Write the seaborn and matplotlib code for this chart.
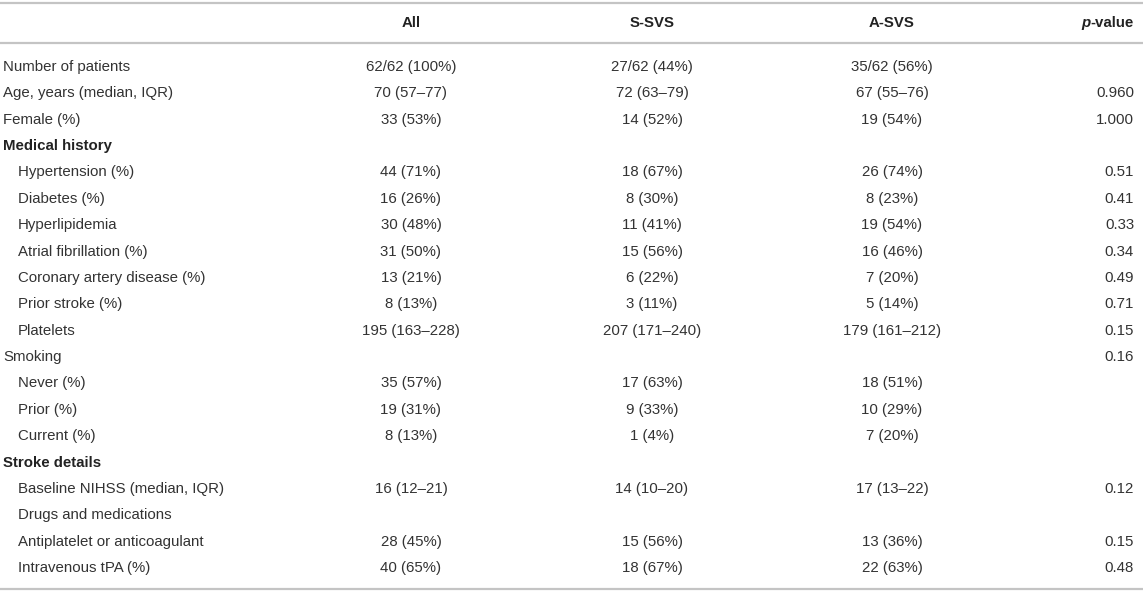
import matplotlib
matplotlib.use("Agg")
import matplotlib.pyplot as plt
import seaborn as sns

# ---- data ----
row_labels = [
    "Number of patients", "Age, years (median, IQR)", "Female (%)",
    "Medical history", "Hypertension (%)", "Diabetes (%)", "Hyperlipidemia",
    "Atrial fibrillation (%)", "Coronary artery disease (%)", "Prior stroke (%)",
    "Platelets", "Smoking", "Never (%)", "Prior (%)", "Current (%)",
    "Stroke details", "Baseline NIHSS (median, IQR)", "Drugs and medications",
    "Antiplatelet or anticoagulant", "Intravenous tPA (%)",
]
row_kind = ["n", "n", "n", "h", "i", "i", "i", "i", "i", "i", "i", "n",
            "i", "i", "i", "h", "i", "i", "i", "i"]
all_vals = ["62/62 (100%)", "70 (57–77)", "33 (53%)", "", "44 (71%)", "16 (26%)",
            "30 (48%)", "31 (50%)", "13 (21%)", "8 (13%)", "195 (163–228)", "",
            "35 (57%)", "19 (31%)", "8 (13%)", "", "16 (12–21)", "",
            "28 (45%)", "40 (65%)"]
ssvs_vals = ["27/62 (44%)", "72 (63–79)", "14 (52%)", "", "18 (67%)", "8 (30%)",
             "11 (41%)", "15 (56%)", "6 (22%)", "3 (11%)", "207 (171–240)", "",
             "17 (63%)", "9 (33%)", "1 (4%)", "", "14 (10–20)", "",
             "15 (56%)", "18 (67%)"]
asvs_vals = ["35/62 (56%)", "67 (55–76)", "19 (54%)", "", "26 (74%)", "8 (23%)",
             "19 (54%)", "16 (46%)", "7 (20%)", "5 (14%)", "179 (161–212)", "",
             "18 (51%)", "10 (29%)", "7 (20%)", "", "17 (13–22)", "",
             "13 (36%)", "22 (63%)"]
p_vals = ["", "0.960", "1.000", "", "0.51", "0.41", "0.33", "0.34", "0.49",
          "0.71", "0.15", "0.16", "", "", "", "", "0.12", "", "0.15", "0.48"]
headers = ["All", "S-SVS", "A-SVS"]

# ---- style ----
sns.set_theme(style="white")
plt.rcParams["font.family"] = ["Liberation Sans", "DejaVu Sans"]

W, H = 1143, 592
fig = plt.figure(figsize=(W / 100, H / 100), dpi=100)
ax = fig.add_axes([0, 0, 1, 1])
ax.set_xlim(0, W)
ax.set_ylim(H, 0)
ax.axis("off")

fs = 15.0 * 72 / 100
txt = "#333333"
line_c = "#c4c4c4"

for y in (3, 43, 589):
    ax.plot([0, W], [y, y], color=line_c, lw=1.6, solid_capstyle="butt")

col_x = [411, 652, 892]
p_x = 1134
head_y = 23

for cx, h in zip(col_x, headers):
    ax.text(cx, head_y, h, ha="center", va="center", fontsize=fs,
            fontweight="bold", color="#222222")
t_val = ax.text(p_x, head_y, "-value", ha="right", va="center", fontsize=fs,
                fontweight="bold", color="#222222")
fig.canvas.draw()
r = fig.canvas.get_renderer()
bb = t_val.get_window_extent(r)
left_data = ax.transData.inverted().transform((bb.x0, bb.y0))[0]
ax.text(left_data, head_y, "p", ha="right", va="center", fontsize=fs,
        fontweight="bold", fontstyle="italic", color="#222222")

y0, dy = 67, (568 - 67) / 19
for i, lab in enumerate(row_labels):
    y = y0 + i * dy
    kind = row_kind[i]
    x = 18 if kind == "i" else 3
    ax.text(x, y, lab, ha="left", va="center", fontsize=fs,
            color=txt if kind != "h" else "#222222",
            fontweight="bold" if kind == "h" else "normal")
    for cx, vals in zip(col_x, (all_vals, ssvs_vals, asvs_vals)):
        if vals[i]:
            ax.text(cx, y, vals[i], ha="center", va="center", fontsize=fs, color=txt)
    if p_vals[i]:
        ax.text(p_x, y, p_vals[i], ha="right", va="center", fontsize=fs, color=txt)

fig.savefig("out.png", dpi=100)
